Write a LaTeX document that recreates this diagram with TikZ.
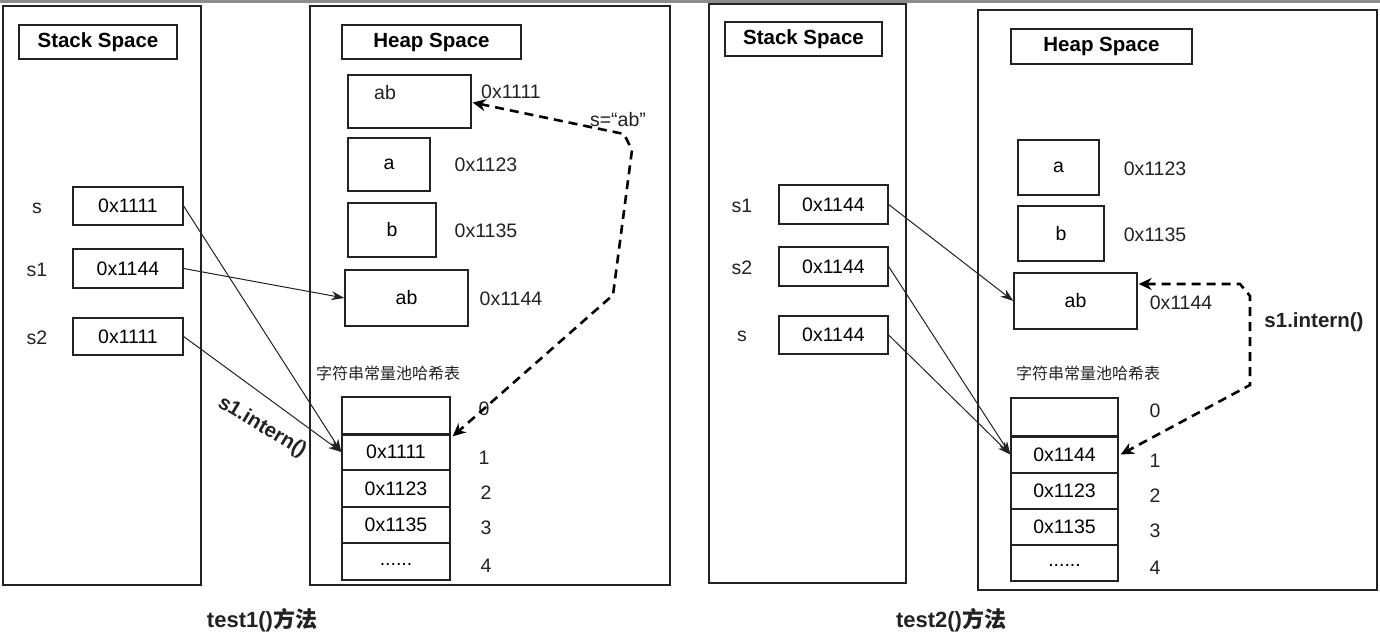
\documentclass[tikz,border=0pt]{standalone}
\usepackage{fontspec}
\setmainfont{Liberation Sans}
\newfontfamily\cjk{Noto Sans CJK SC}
\usetikzlibrary{arrows.meta,calc}
\definecolor{ink}{HTML}{222222}
\tikzset{
  cell/.style={draw=ink, line width=1.3pt, inner sep=0pt, font=\fontsize{19.5}{21}\selectfont},
  title/.style={cell, font=\fontsize{20.5}{22}\selectfont\bfseries},
  txt/.style={inner sep=0pt, text=ink, font=\fontsize{19.5}{21}\selectfont},
  pooltxt/.style={inner sep=0pt, text=ink, font=\fontsize{16}{18}\selectfont\cjk},
  btxt/.style={inner sep=0pt, text=ink, font=\fontsize{20.5}{22}\selectfont\bfseries},
  captxt/.style={inner sep=0pt, text=ink, font=\fontsize{22}{24}\selectfont\bfseries},
  ptr/.style={draw=ink, line width=1pt, -{Stealth[length=13pt,width=9pt]}},
  dptr/.style={draw=black, line width=2.6pt, dash pattern=on 9pt off 6pt, {Stealth[length=13pt,width=12pt]}-{Stealth[length=13pt,width=12pt]}},
}
\newcommand{\lowdots}{\raisebox{-7pt}{......}}
\begin{document}
\begin{tikzpicture}[x=1pt,y=-1pt]
\useasboundingbox (0,0) rectangle (1380,635);
\fill[gray!90] (0,0) rectangle (1380,2.6);

% ---------------- Panel 1 ----------------
\node[draw=ink, line width=1.4pt, minimum width=198pt, minimum height=579pt] (stack1) at (102,295.5) {};
\node[title, minimum width=158pt, minimum height=34pt] (st1) at (98,42) {Stack Space};
\node[txt] (ls) at (37,208) {s};
\node[txt] (ls1) at (37,270) {s1};
\node[txt] (ls2) at (37,338) {s2};
\node[cell, minimum width=110pt, minimum height=38pt] (bs) at (128,206) {0x1111};
\node[cell, minimum width=110pt, minimum height=39pt] (bs1) at (128,268.5) {0x1144};
\node[cell, minimum width=110pt, minimum height=37pt] (bs2) at (128,336.5) {0x1111};

\node[draw=ink, line width=1.4pt, minimum width=360pt, minimum height=579pt] (heap1) at (490,295.5) {};
\node[title, minimum width=179pt, minimum height=34pt] (ht1) at (431.5,42) {Heap Space};
\node[cell, minimum width=123pt, minimum height=53pt] (ab1) at (409.5,101.5) {};
\node[txt] (ab1t) at (385,93) {ab};
\node[txt] (ad1) at (511,92) {0x1111};
\node[cell, minimum width=82pt, minimum height=53pt] (a1) at (389,164.5) {a};
\node[txt] (ad2) at (486,165) {0x1123};
\node[cell, minimum width=88pt, minimum height=54pt] (b1) at (392,230) {b};
\node[txt] (ad3) at (486,231) {0x1135};
\node[cell, minimum width=123pt, minimum height=56pt] (ab2) at (406.5,298) {ab};
\node[txt] (ad4) at (511,299) {0x1144};
\node[pooltxt] (pool1) at (388,373) {字符串常量池哈希表};
\node[cell, minimum width=108pt, minimum height=37pt] (t1r0) at (396,415.5) {};
\node[cell, minimum width=108pt, minimum height=36pt] (t1r1) at (396,452) {0x1111};
\node[cell, minimum width=108pt, minimum height=37pt] (t1r2) at (396,488.5) {0x1123};
\node[cell, minimum width=108pt, minimum height=36pt] (t1r3) at (396,525) {0x1135};
\node[cell, minimum width=108pt, minimum height=37pt] (t1r4) at (396,561.5) {\lowdots};
\draw[ink, line width=2.6pt] (t1r0.south west) -- (t1r0.south east);
\node[txt] (i10) at (484,409) {0};
\node[txt] (i11) at (484,458) {1};
\node[txt] (i12) at (486,493) {2};
\node[txt] (i13) at (486,528) {3};
\node[txt] (i14) at (486,566) {4};

\draw[ptr] (bs.east) -- (t1r1.west);
\draw[ptr] (bs2.east) -- (t1r1.west);
\draw[ptr] (bs1.east) -- (ab2.west);
\coordinate (d1a) at (624,134);
\coordinate (d1b) at (632,150);
\coordinate (d1c) at (613,295);
\draw[dptr] ($(ab1.east)+(1,1)$) -- (d1a) -- (d1b) -- (d1c) -- ($(t1r1.north east)+(2,3)$);
\node[txt] (sab) at (618,120) {s=“ab”};
\node[btxt, rotate=-31] (int1) at (262,427) {s1.intern()};
\node[captxt] (cap1) at (262,620) {test1(){\cjk\bfseries 方法}};

% ---------------- Panel 2 ----------------
\node[draw=ink, line width=1.4pt, minimum width=197pt, minimum height=579pt] (stack2) at (807.5,293.5) {};
\node[title, minimum width=157pt, minimum height=34pt] (st2) at (803.5,39) {Stack Space};
\node[txt] (ms1) at (742,206) {s1};
\node[txt] (ms2) at (742,268) {s2};
\node[txt] (ms) at (742,336) {s};
\node[cell, minimum width=109pt, minimum height=39pt] (c1) at (833.5,204.5) {0x1144};
\node[cell, minimum width=109pt, minimum height=39pt] (c2) at (833.5,266.5) {0x1144};
\node[cell, minimum width=109pt, minimum height=38pt] (c3) at (833.5,335) {0x1144};

\node[draw=ink, line width=1.4pt, minimum width=399pt, minimum height=580pt] (heap2) at (1177.5,300) {};
\node[title, minimum width=181pt, minimum height=35pt] (ht2) at (1101.5,46.5) {Heap Space};
\node[cell, minimum width=81pt, minimum height=55pt] (a2) at (1058.5,167.5) {a};
\node[txt] (ae2) at (1155,169) {0x1123};
\node[cell, minimum width=86pt, minimum height=55pt] (b2) at (1061,233.5) {b};
\node[txt] (ae3) at (1155,235) {0x1135};
\node[cell, minimum width=123pt, minimum height=56pt] (ab3) at (1075.5,301) {ab};
\node[txt] (ae4) at (1181,303) {0x1144};
\node[btxt] (int2) at (1314,322) {s1.intern()};
\node[pooltxt] (pool2) at (1088,373) {字符串常量池哈希表};
\node[cell, minimum width=107pt, minimum height=38pt] (t2r0) at (1064.5,417) {};
\node[cell, minimum width=107pt, minimum height=37pt] (t2r1) at (1064.5,454.5) {0x1144};
\node[cell, minimum width=107pt, minimum height=36pt] (t2r2) at (1064.5,491) {0x1123};
\node[cell, minimum width=107pt, minimum height=36pt] (t2r3) at (1064.5,527) {0x1135};
\node[cell, minimum width=107pt, minimum height=36pt] (t2r4) at (1064.5,563) {\lowdots};
\draw[ink, line width=2.6pt] (t2r0.south west) -- (t2r0.south east);
\node[txt] (j0) at (1155,411) {0};
\node[txt] (j1) at (1155,461) {1};
\node[txt] (j2) at (1155,496) {2};
\node[txt] (j3) at (1155,531) {3};
\node[txt] (j4) at (1155,568) {4};

\draw[ptr] (c1.east) -- (ab3.west);
\draw[ptr] (c2.east) -- (t2r1.west);
\draw[ptr] (c3.east) -- (t2r1.west);
\coordinate (d2a) at (1240,284);
\coordinate (d2b) at (1250,296);
\coordinate (d2c) at (1250,385);
\draw[dptr] ($(ab3.east)+(1,-17)$) -- (d2a) -- (d2b) -- (d2c) -- ($(t2r1.east)+(2,0)$);
\node[captxt] (cap2) at (951,620) {test2(){\cjk\bfseries 方法}};
\end{tikzpicture}
\end{document}
